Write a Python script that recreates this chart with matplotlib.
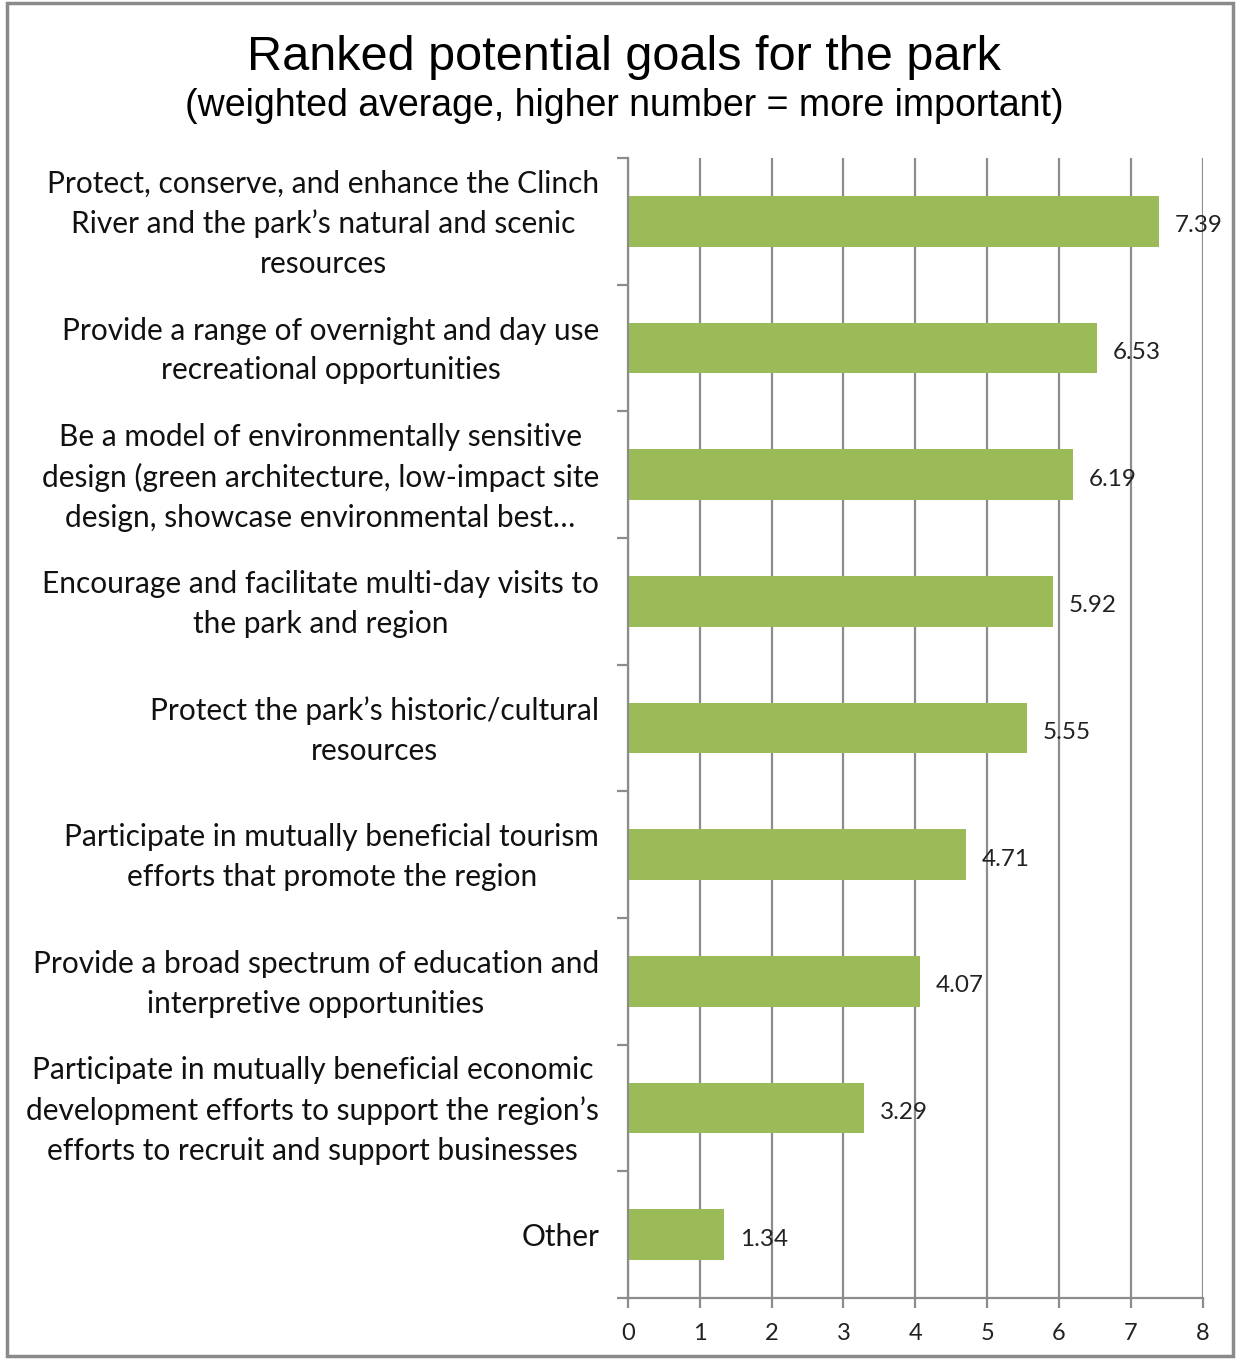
import numpy as np
import matplotlib.pyplot as plt
from matplotlib.patches import Rectangle

goals = [
    "Protect, conserve, and enhance the Clinch\nRiver and the park\u2019s natural and scenic\nresources",
    "Provide a range of overnight and day use\nrecreational opportunities",
    "Be a model of environmentally sensitive\ndesign (green architecture, low-impact site\ndesign, showcase environmental best\u2026",
    "Encourage and facilitate multi-day visits to\nthe park and region",
    "Protect the park\u2019s historic/cultural\nresources",
    "Participate in mutually beneficial tourism\nefforts that promote the region",
    "Provide a broad spectrum of education and\ninterpretive opportunities",
    "Participate in mutually beneficial economic\ndevelopment efforts to support the region\u2019s\nefforts to recruit and support businesses",
    "Other",
]
scores = [7.39, 6.53, 6.19, 5.92, 5.55, 4.71, 4.07, 3.29, 1.34]
x_ticks = [0, 1, 2, 3, 4, 5, 6, 7, 8]

grey = "#8c8c8c"
green = "#9bbb59"
label_font = ["Lato", "DejaVu Sans"]

fig = plt.figure(figsize=(12.36, 13.59), dpi=100)
ax = fig.add_axes([0.508, 0.0449, 0.465, 0.8388])

y = np.arange(len(goals))
ax.barh(y, scores, height=0.4, color=green, zorder=2)
ax.set_ylim(len(goals) - 0.5, -0.5)
ax.set_xlim(0, 8)

# gridlines behind the bars
ax.set_xticks(x_ticks)
ax.xaxis.grid(True, color=grey, lw=1.6, zorder=0)
ax.set_axisbelow(True)
ax.set_xticklabels([str(t) for t in x_ticks], fontsize=17, family=label_font, color="#222222")
ax.tick_params(axis="x", direction="out", length=7, width=1.6, color=grey, pad=11)

# category boundaries as ticks on the y axis
ax.set_yticks(np.arange(len(goals) + 1) - 0.5)
ax.set_yticklabels([])
ax.tick_params(axis="y", direction="out", length=8, width=1.6, color=grey)

for side in ["top", "right"]:
    ax.spines[side].set_visible(False)
for side in ["left", "bottom"]:
    ax.spines[side].set_color(grey)
    ax.spines[side].set_linewidth(1.6)

for yi, g, v in zip(y, goals, scores):
    ax.text(-0.4, yi + 0.02, g, ha="right", va="center", multialignment="center",
            fontsize=21.5, family=label_font, color="#111111", linespacing=1.5)
    ax.text(v + 0.22, yi + 0.035, f"{v:.2f}", ha="left", va="center",
            fontsize=17.5, family=label_font, color="#222222", zorder=3)

fig.text(0.505, 0.958, "Ranked potential goals for the park", ha="center", va="center",
         fontsize=35, family="Liberation Sans", color="black")
fig.text(0.505, 0.922, "(weighted average, higher number = more important)", ha="center",
         va="center", fontsize=27, family="Liberation Sans", color="black")

fig.patches.append(Rectangle((7, 3), 1226, 1353, transform=None, fill=False,
                             edgecolor="#8a8a8a", lw=2.5))

fig.savefig("out.png", dpi=100)
